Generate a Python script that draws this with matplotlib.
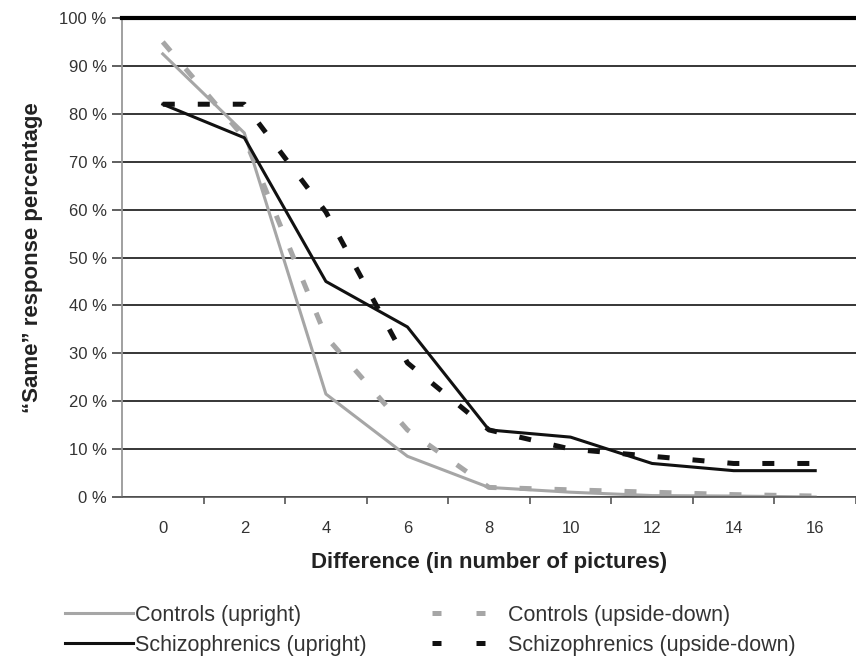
import matplotlib.pyplot as plt
from matplotlib.lines import Line2D
import numpy as np

plt.rcParams['font.family'] = ['Liberation Sans', 'DejaVu Sans']

# data (percent "same" responses)
difference = [0, 2, 4, 6, 8, 10, 12, 14, 16]
controls_upright = [92.5, 76, 21.5, 8.5, 2, 1, 0.3, 0.2, 0]
controls_upside_down = [95, 75, 33.5, 14, 2, 1.5, 1, 0.5, 0.2]
schizo_upright = [82, 75, 45, 35.5, 14, 12.5, 7, 5.5, 5.5]
schizo_upside_down = [82, 82, 59.5, 28, 14, 10, 8.5, 7, 7]

y_ticks = [0, 10, 20, 30, 40, 50, 60, 70, 80, 90, 100]
x_ticks = [0, 2, 4, 6, 8, 10, 12, 14, 16]

GRAY = '#a6a6a6'
BLACK = '#111111'
TXT = '#333333'

fig = plt.figure(figsize=(8.56, 6.60), dpi=100)
ax = fig.add_axes([122 / 856, 1 - 497 / 660, (856 - 122) / 856, (497 - 18) / 660])

ax.plot(difference, controls_upright, color=GRAY, lw=2.2, solid_joinstyle='round')
ax.plot(difference, controls_upside_down, color=GRAY, lw=3.6,
        linestyle=(0, (2.4, 4.6)))
ax.plot(difference, schizo_upright, color=BLACK, lw=2.2, solid_joinstyle='round')
ax.plot(difference, schizo_upside_down, color=BLACK, lw=3.6,
        linestyle=(0, (2.4, 4.6)))

ax.set_xlim(-1, 17)
ax.set_ylim(0, 100)

# horizontal grid
ax.set_yticks(y_ticks)
ax.set_yticklabels([f'{v} %' for v in y_ticks], fontsize=12, color=TXT)
ax.yaxis.grid(True, color='black', lw=1.1)
ax.set_axisbelow(True)
ax.tick_params(axis='y', length=7, width=1.2, color='#444444', pad=4)

# x: labels at even values, tick marks at odd values
ax.set_xticks(x_ticks)
ax.set_xticklabels([str(v) for v in x_ticks], fontsize=12, color=TXT)
ax.set_xticks(np.arange(1, 18, 2), minor=True)
ax.tick_params(axis='x', which='major', length=0, pad=17)
ax.tick_params(axis='x', which='minor', length=5, width=1.2, color='#555555')

ax.spines['right'].set_visible(False)
ax.spines['top'].set_color('black')
ax.spines['top'].set_linewidth(3)
ax.spines['left'].set_color('#999999')
ax.spines['left'].set_linewidth(1.3)
ax.spines['bottom'].set_color('#555555')
ax.spines['bottom'].set_linewidth(1.2)

ax.set_xlabel('Difference (in number of pictures)', fontsize=16, fontweight='bold',
              color='#222222', labelpad=12)
ax.set_ylabel('\u201cSame\u201d response percentage', fontsize=16, fontweight='bold',
              color='#222222', labelpad=12)

# legend, two columns with their own spacing
solid_handles = [Line2D([], [], color=GRAY, lw=2.2),
                 Line2D([], [], color=BLACK, lw=2.2)]
fig.legend(solid_handles, ['Controls (upright)', 'Schizophrenics (upright)'],
           loc='upper left', bbox_to_anchor=(65 / 856, 1 - 605 / 660),
           frameon=False, fontsize=15.5, handlelength=3.15, handletextpad=0.1,
           borderpad=0, borderaxespad=0, labelspacing=0.4, labelcolor=TXT)

dash_handles = [Line2D([], [], color=GRAY, lw=3.6, linestyle=(0, (1.8, 7))),
                Line2D([], [], color=BLACK, lw=3.6, linestyle=(0, (1.8, 7)))]
fig.legend(dash_handles, ['Controls (upside-down)', 'Schizophrenics (upside-down)'],
           loc='upper left', bbox_to_anchor=(432 / 856, 1 - 605 / 660),
           frameon=False, fontsize=15.5, handlelength=2.45, handletextpad=1.1,
           borderpad=0, borderaxespad=0, labelspacing=0.4, labelcolor=TXT)

fig.savefig('out.png', dpi=100)
